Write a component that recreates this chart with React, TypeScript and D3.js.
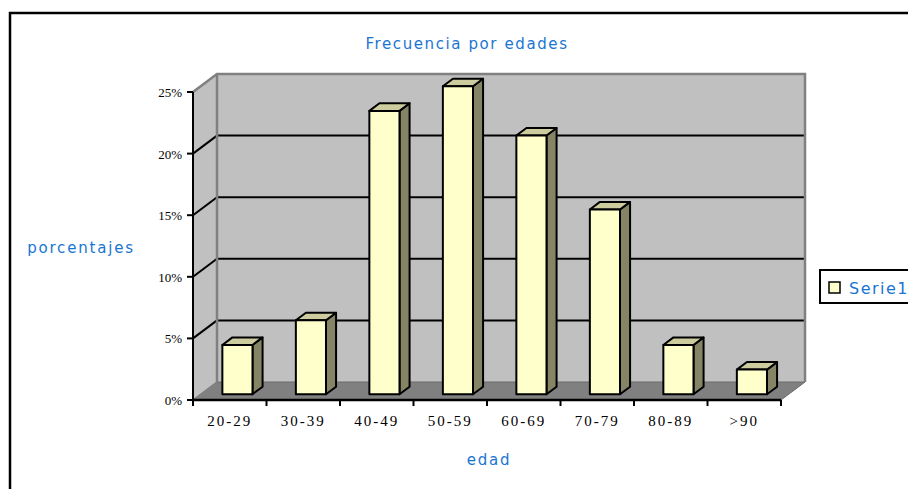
import React from 'react';
import * as d3 from 'd3';

const categories = ['20-29', '30-39', '40-49', '50-59', '60-69', '70-79', '80-89', '>90'];
const values = [0.04, 0.06, 0.23, 0.25, 0.21, 0.15, 0.04, 0.02];
const yTicks = [0, 0.05, 0.1, 0.15, 0.2, 0.25];
const seriesName = 'Serie1';

const W = 908;
const H = 489;
// front plane of the 3d box
const left = 193;
const right = 781;
const bottom = 400;
const top = 92;
// depth of the box
const DX = 24;
const DY = 18;
// bar placement inside the depth
const barFront = 0.32;
const barDepth = 0.42;

const blue = '#1a75d2';
const serif = '"Liberation Serif", "Times New Roman", serif';
const sans = '"DejaVu Sans", Verdana, sans-serif';

const App = () => {
    const x = d3.scaleBand<string>()
        .domain(categories)
        .range([left, right])
        .paddingInner(0.59)
        .paddingOuter(0.295);
    const step = x.step();

    const y = d3.scaleLinear().domain([0, 0.25]).range([bottom, top]);

    const pts = (p: number[][]) => p.map(d => d.join(',')).join(' ');

    // offsets of the bar's front face
    const fx = barFront * DX;
    const fy = barFront * DY;
    const bx = barDepth * DX;
    const by = barDepth * DY;

    return (
        <svg width={W} height={H} style={{ position: 'absolute', left: 0, top: 0 }}>
            <rect x={0} y={0} width={W} height={H} fill="#fff" />
            {/* chart area border */}
            <rect x={10} y={13} width={920} height={500} fill="#fff" stroke="#000" strokeWidth={2.5} />

            <text x={467} y={49} textAnchor="middle" fill={blue} fontFamily={sans} fontSize={15} letterSpacing={1.6}>
                Frecuencia por edades
            </text>

            {/* back wall */}
            <polygon
                points={pts([[left + DX, top - DY], [right + DX, top - DY], [right + DX, bottom - DY], [left + DX, bottom - DY]])}
                fill="#c0c0c0"
            />
            {/* left wall */}
            <polygon
                points={pts([[left, top], [left + DX, top - DY], [left + DX, bottom - DY], [left, bottom]])}
                fill="#c0c0c0"
            />
            {/* floor */}
            <polygon
                points={pts([[left, bottom], [right, bottom], [right + DX, bottom - DY], [left + DX, bottom - DY]])}
                fill="#808080"
                stroke="#6a6a6a"
                strokeWidth={1}
            />

            {/* gridlines */}
            {yTicks.filter(t => t > 0 && t < 0.25).map(t => (
                <g key={t}>
                    <line x1={left + DX} x2={right + DX} y1={y(t) - DY} y2={y(t) - DY} stroke="#000" strokeWidth={2} />
                    <line x1={left} x2={left + DX} y1={y(t)} y2={y(t) - DY} stroke="#000" strokeWidth={2} />
                </g>
            ))}

            {/* wall edges */}
            <polyline
                points={pts([[left, top], [left + DX, top - DY], [right + DX, top - DY], [right + DX, bottom - DY]])}
                fill="none"
                stroke="#808080"
                strokeWidth={2.5}
            />
            <line x1={left + DX} x2={left + DX} y1={top - DY} y2={bottom - DY} stroke="#808080" strokeWidth={2.5} />
            <line x1={left} x2={left + DX} y1={bottom} y2={bottom - DY} stroke="#808080" strokeWidth={1.5} />

            {/* bars */}
            {categories.map((c, i) => {
                const x0 = (x(c) as number) + fx;
                const x1 = x0 + x.bandwidth();
                const yb = bottom - fy;
                const yt = y(values[i]) - fy;
                return (
                    <g key={c} stroke="#000" strokeWidth={2} strokeLinejoin="round">
                        <polygon points={pts([[x1, yb], [x1 + bx, yb - by], [x1 + bx, yt - by], [x1, yt]])} fill="#858566" />
                        <polygon points={pts([[x0, yt], [x0 + bx, yt - by], [x1 + bx, yt - by], [x1, yt]])} fill="#cccc9e" />
                        <rect x={x0} y={yt} width={x1 - x0} height={yb - yt} fill="#ffffcc" />
                    </g>
                );
            })}

            {/* y axis */}
            <line x1={left} x2={left} y1={top} y2={bottom} stroke="#000" strokeWidth={2} />
            {yTicks.map(t => (
                <g key={t}>
                    <line x1={left - 6} x2={left} y1={y(t)} y2={y(t)} stroke="#000" strokeWidth={2} />
                    <text x={182} y={y(t) + 5} textAnchor="end" fontFamily={serif} fontSize={13}>
                        {d3.format('.0%')(t)}
                    </text>
                </g>
            ))}

            {/* x axis */}
            <line x1={left} x2={right} y1={bottom} y2={bottom} stroke="#000" strokeWidth={2.5} />
            {d3.range(categories.length + 1).map(i => (
                <line key={i} x1={left + i * step} x2={left + i * step} y1={bottom} y2={bottom + 6} stroke="#000" strokeWidth={2} />
            ))}
            {categories.map(c => (
                <text
                    key={c}
                    x={left + categories.indexOf(c) * step + step / 2}
                    y={426}
                    textAnchor="middle"
                    fontFamily={serif}
                    fontSize={15}
                    letterSpacing={2}
                >
                    {c}
                </text>
            ))}

            <text x={81} y={253} textAnchor="middle" fill={blue} fontFamily={sans} fontSize={15} letterSpacing={1.8}>
                porcentajes
            </text>
            <text x={489} y={465} textAnchor="middle" fill={blue} fontFamily={sans} fontSize={15} letterSpacing={1.8}>
                edad
            </text>

            {/* legend */}
            <rect x={820} y={270} width={100} height={33} fill="#fff" stroke="#000" strokeWidth={2} />
            <rect x={829} y={282} width={11} height={11} fill="#ffffcc" stroke="#000" strokeWidth={1.5} />
            <text x={849} y={294} fill={blue} fontFamily={sans} fontSize={16} letterSpacing={1.5}>
                {seriesName}
            </text>
        </svg>
    );
};

export default App;
